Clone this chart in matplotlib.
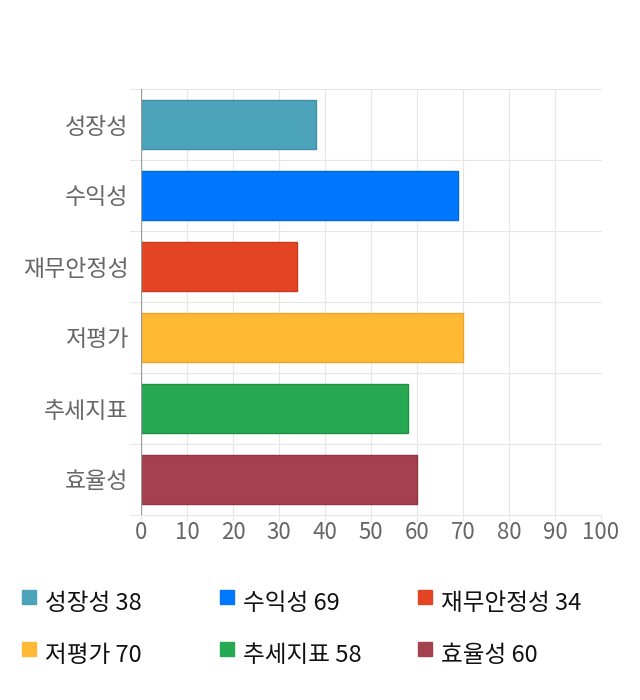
import matplotlib.pyplot as plt
import matplotlib.patches as mpatches

plt.rcParams['font.family'] = ['Noto Sans CJK KR', 'DejaVu Sans']

categories = ['성장성', '수익성', '재무안정성', '저평가', '추세지표', '효율성']
values = [38, 69, 34, 70, 58, 60]
colors = ['#4BA3BC', '#0077FF', '#E24424', '#FFB933', '#27A853', '#A5404E']
edge_colors = ['#3F8FA5', '#0066DD', '#C93A1E', '#E6A52C', '#208F46', '#8F3643']
xticks = list(range(0, 101, 10))

fig = plt.figure(figsize=(6.4, 7), dpi=100)
ax = fig.add_axes([141 / 640, 1 - 515 / 700, 460 / 640, 426 / 700])

ypos = list(range(len(categories)))
ax.barh(ypos, values, height=0.7, color=colors, edgecolor=edge_colors, linewidth=1, zorder=3)

ax.set_xlim(0, 100)
ax.set_ylim(len(categories) - 0.5, -0.5)
ax.set_xticks(xticks)
ax.set_xticklabels([str(t) for t in xticks], color='#666666', fontsize=16)
ax.set_yticks(ypos)
ax.set_yticklabels(categories, color='#666666', fontsize=16.5)

# gridlines
for t in xticks:
    ax.axvline(t, color='#e6e6e6', linewidth=0.8, zorder=1)
for b in [i - 0.5 for i in range(len(categories) + 1)]:
    ax.plot([-2.4, 100], [b, b], color='#e6e6e6', linewidth=0.8, zorder=1, clip_on=False)
ax.axvline(0, color='#999999', linewidth=0.9, zorder=4)

for s in ax.spines.values():
    s.set_visible(False)
ax.tick_params(axis='x', length=4, color='#e6e6e6', pad=0)
ax.tick_params(axis='y', length=0, pad=9)

# legend
col_x = [22, 220, 418]
row_y = [603, 655]
for i, (cat, val, c) in enumerate(zip(categories, values, colors)):
    x = col_x[i % 3]
    y = row_y[i // 3]
    fig.patches.append(mpatches.Rectangle((x / 640, 1 - (y + 1) / 700), 14 / 640, 14 / 700,
                                          transform=fig.transFigure, color=c, figure=fig))
    fig.text((x + 23) / 640, 1 - (y + 1) / 700, f'{cat} {val}', fontsize=17, color='#111111',
             va='center', ha='left')

fig.savefig('out.png', dpi=100)
